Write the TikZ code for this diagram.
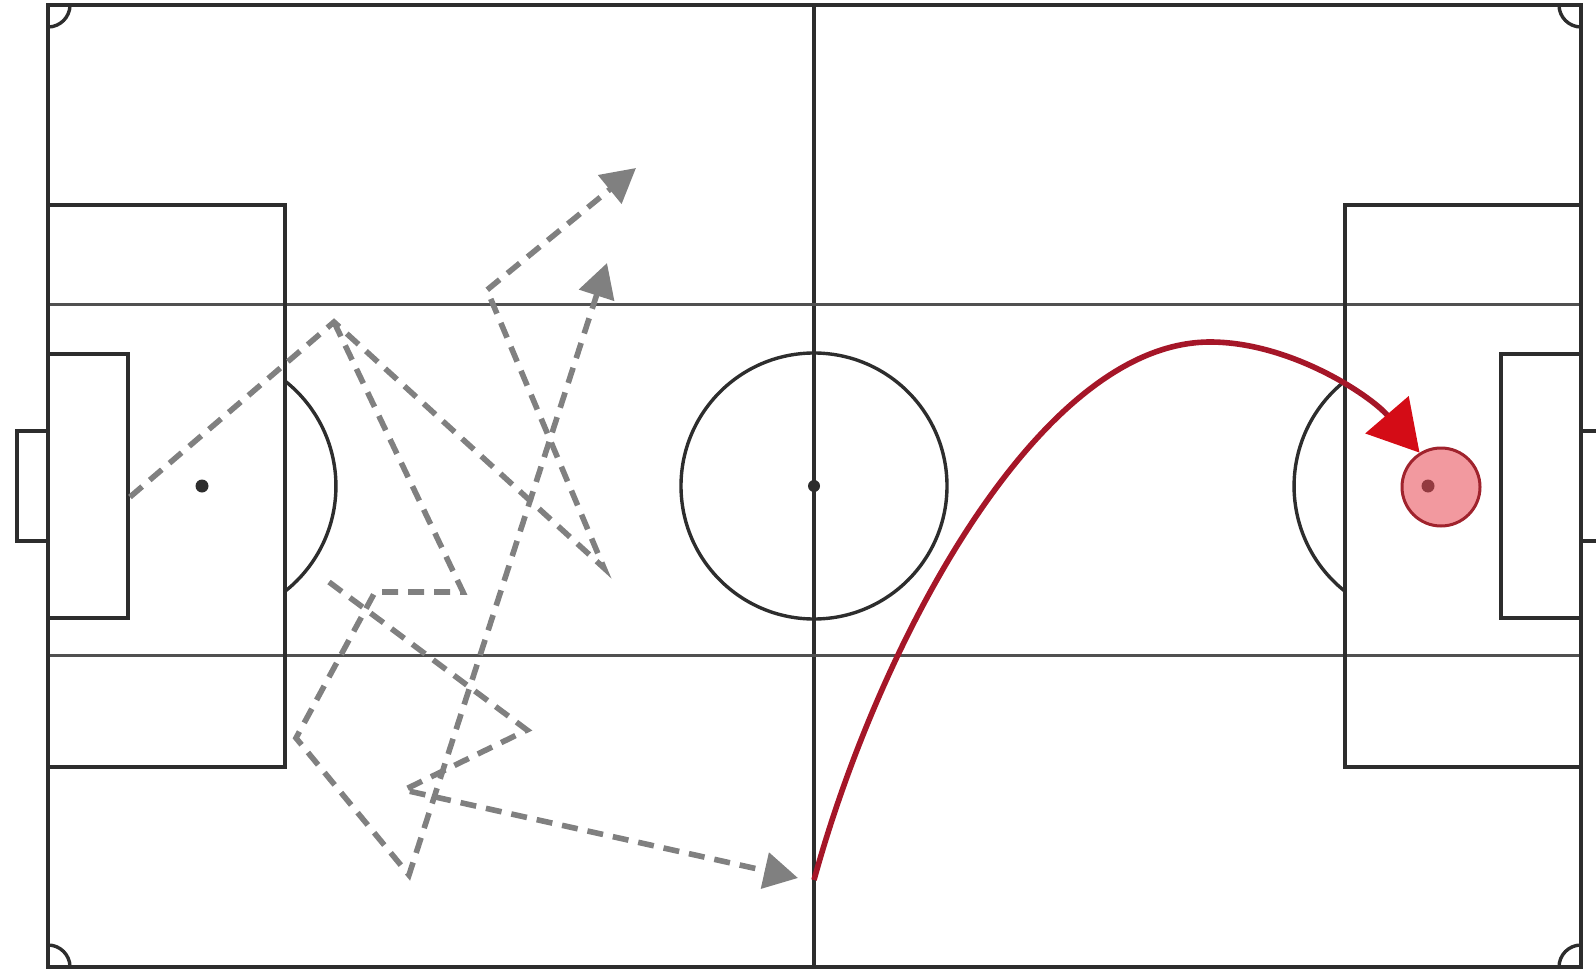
\documentclass[tikz,border=0pt]{standalone}
\usetikzlibrary{arrows.meta}
\definecolor{pitchline}{RGB}{45,45,45}
\definecolor{thirdline}{RGB}{80,80,80}
\definecolor{passgray}{RGB}{128,128,128}
\definecolor{shotred}{RGB}{165,22,40}
\definecolor{tipred}{RGB}{212,12,22}
\definecolor{ballfill}{RGB}{232,70,80}
\definecolor{balledge}{RGB}{160,35,45}

\begin{document}
\begin{tikzpicture}[x=0.5pt, y=-0.5pt,
    pitch/.style={draw=pitchline, line width=1.7pt},
    pass/.style={draw=passgray, line width=2.8pt, dash pattern=on 8pt off 5pt, line join=miter},
    passto/.style={pass, -{Triangle[length=17pt, width=18pt]}},
    spot/.style={circle, fill=pitchline, inner sep=0pt, minimum size=6.5pt},
    ball/.style={circle, draw=balledge, line width=1.5pt, fill=ballfill, fill opacity=0.55, minimum size=39pt, inner sep=0pt}]
    \useasboundingbox (0,0) rectangle (1596,974);
    \clip (0,0) rectangle (1596,974);

    \draw[pitch] (48,5) rectangle (1581,967);
    \draw[pitch] (814,5) -- (814,967);
    \draw[draw=thirdline, line width=1.5pt] (48,304) -- (1581,304) (48,655) -- (1581,655);
    \draw[pitch] (48,205) rectangle (285,767);
    \draw[pitch] (1581,205) rectangle (1345,767);
    \draw[pitch] (48,354) rectangle (128,618);
    \draw[pitch] (1581,354) rectangle (1501,618);
    \draw[pitch] (48,431) rectangle (17,541);
    \draw[pitch] (1581,431) rectangle (1612,541);
    \draw[pitch] (814,486) circle (133);
    \draw[pitch] (285,381) arc[start angle=-51.7, end angle=51.7, radius=134];
    \draw[pitch] (1345,381) arc[start angle=231.7, end angle=128.3, radius=134];
    \draw[pitch] (70,5) arc[start angle=0, end angle=90, radius=22];
    \draw[pitch] (1559,5) arc[start angle=180, end angle=90, radius=22];
    \draw[pitch] (70,967) arc[start angle=0, end angle=-90, radius=22];
    \draw[pitch] (1559,967) arc[start angle=180, end angle=270, radius=22];

    \node[spot] (lspot) at (202,486) {};
    \node[spot] (rspot) at (1428,486) {};
    \node[spot, minimum size=6pt] (centre) at (814,486) {};
    \node[ball] (ball) at (1441,487) {};

    \coordinate (start) at (130,497);
    \coordinate (p1) at (334,322);
    \coordinate (p2) at (487,290);
    \coordinate (p3) at (604,568);
    \coordinate (aim1) at (636,168);
    \coordinate (q1) at (463,592);
    \coordinate (q2) at (375,592);
    \coordinate (q3) at (296,738);
    \coordinate (q4) at (409,875);
    \coordinate (aim2) at (607,263);
    \coordinate (r1) at (329,582);
    \coordinate (r2) at (527,730);
    \coordinate (r3) at (404,790);
    \coordinate (aim3) at (798,878);

    \draw[passto] (start) -- (p1) -- (p3) -- (p2) -- (aim1);
    \draw[passto] (p1) -- (q1) -- (q2) -- (q3) -- (q4) -- (aim2);
    \draw[passto] (r1) -- (r2) -- (r3) -- (aim3);

    \coordinate (kick) at (814,880);
    \coordinate (apex) at (1210,342);
    \draw[shotred, line width=2.8pt, -{Triangle[length=25pt, width=28pt, color=tipred]}]
        (kick) .. controls (880,640) and (1040,342) .. (apex)
        .. controls (1290,342) and (1370,395) .. (ball.122);
\end{tikzpicture}
\end{document}
